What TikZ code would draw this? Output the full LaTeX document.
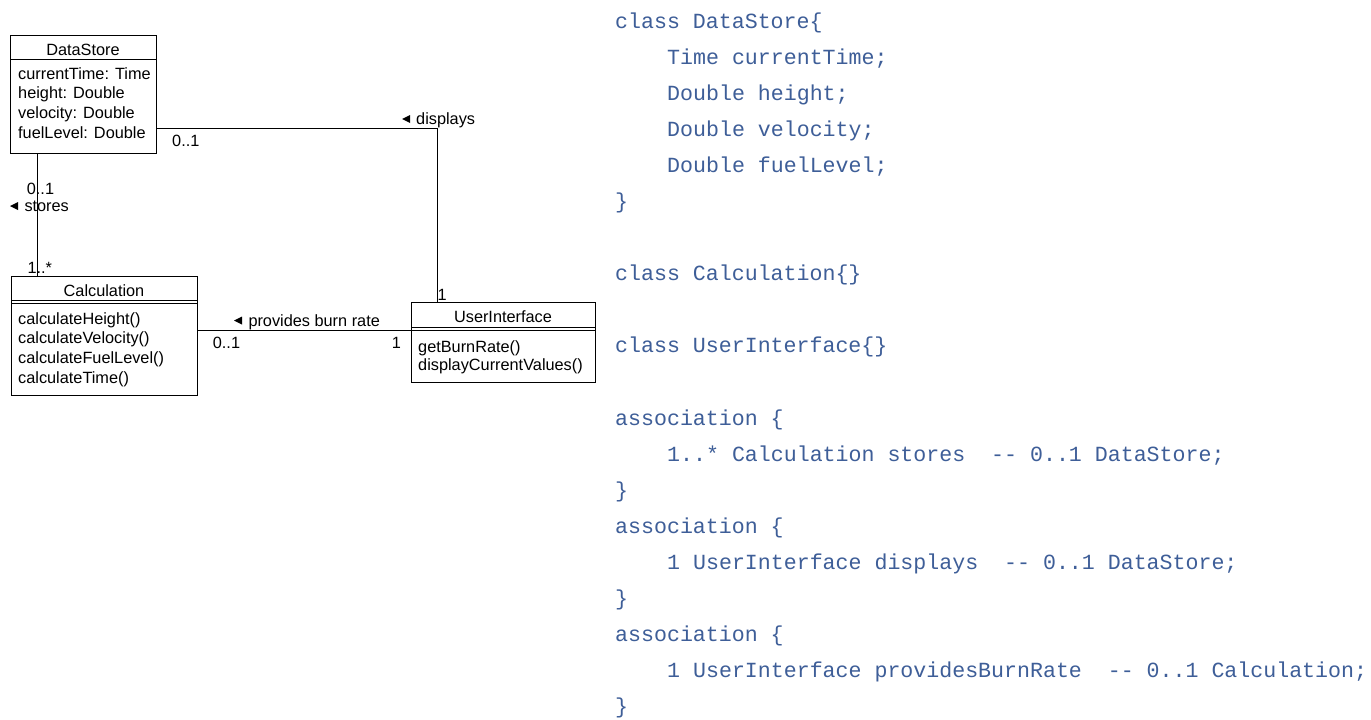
\documentclass[tikz,border=0pt]{standalone}
\usepackage{fontspec}
\setmainfont{Liberation Sans}
\newfontfamily\codefont{Liberation Mono}
\definecolor{codeblue}{RGB}{62,94,152}
\tikzset{
  umlbox/.style={draw, line width=1pt, inner sep=0pt, outer sep=0pt, anchor=north west},
  utext/.style={inner sep=0pt, anchor=base west, font=\fontsize{16.3}{19}\selectfont},
  utitle/.style={inner sep=0pt, anchor=base, font=\fontsize{16.3}{19}\selectfont},
  conn/.style={line width=1pt},
  code/.style={inner sep=0pt, anchor=base west, text=codeblue, font=\codefont\fontsize{21.6}{36}\selectfont},
}
\begin{document}
\begin{tikzpicture}[x=1pt,y=-1pt]
\useasboundingbox[fill=white] (0,0) rectangle (1371,720);

% DataStore
\node[umlbox, minimum width=146pt, minimum height=118pt] (ds) at (10,35) {};
\draw[conn] ([yshift=-24pt]ds.north west) -- ([yshift=-24pt]ds.north east);
\node[utitle] (dst) at (83,55) {DataStore};
\node[utext] (ds1) at (18,79) {currentTime: Time};
\node[utext] (ds2) at (18,98.7) {height: Double};
\node[utext] (ds3) at (18,118.4) {velocity: Double};
\node[utext] (ds4) at (18,138) {fuelLevel: Double};

% Calculation
\node[umlbox, minimum width=186pt, minimum height=119pt] (calc) at (11,276) {};
\draw[conn] ([yshift=-24pt]calc.north west) -- ([yshift=-24pt]calc.north east);
\draw[conn] ([yshift=-27.5pt]calc.north west) -- ([yshift=-27.5pt]calc.north east);
\node[utitle] (calct) at (104,296.7) {Calculation};
\node[utext] (c1) at (18,324) {calculateHeight()};
\node[utext] (c2) at (18,343.7) {calculateVelocity()};
\node[utext] (c3) at (18,363.4) {calculateFuelLevel()};
\node[utext] (c4) at (18,383) {calculateTime()};

% UserInterface
\node[umlbox, minimum width=184pt, minimum height=80pt] (ui) at (411,302) {};
\draw[conn] ([yshift=-25pt]ui.north west) -- ([yshift=-25pt]ui.north east);
\draw[conn] ([yshift=-28.5pt]ui.north west) -- ([yshift=-28.5pt]ui.north east);
\node[utitle] (uit) at (503,322.7) {UserInterface};
\node[utext] (u1) at (418,352.5) {getBurnRate()};
\node[utext] (u2) at (418,370.5) {displayCurrentValues()};

% connectors
\draw[conn] ([xshift=27pt]ds.south west) -- ([xshift=26pt]calc.north west);
\draw[conn] ([yshift=-93pt]ds.north east) -| ([xshift=26pt]ui.north west);
\draw[conn] ([yshift=-54pt]calc.north east) -- ([yshift=-28pt]ui.north west);

% association labels
\node[utext] (m1) at (26.7,194.3) {0..1};
\fill (10,206) -- (18,202) -- (18,210) -- cycle;
\node[utext] (l1) at (24.3,211.7) {stores};
\node[utext] (m2) at (27.3,273) {1..*};

\node[utext] (m3) at (172,146) {0..1};
\fill (402,119) -- (410,115) -- (410,123) -- cycle;
\node[utext] (l2) at (416,124) {displays};
\node[utext] (m4) at (437.3,300) {1};

\fill (234,320.5) -- (242,316.5) -- (242,324.5) -- cycle;
\node[utext] (l3) at (248.3,326) {provides burn rate};
\node[utext] (m5) at (212.7,348) {0..1};
\node[utext] (m6) at (391.7,348) {1};

% code listing
\node[code] (k0) at (615,28) {class~DataStore\{};
\node[code] (k1) at (667,64.1) {Time~currentTime;};
\node[code] (k2) at (667,100.2) {Double~height;};
\node[code] (k3) at (667,136.3) {Double~velocity;};
\node[code] (k4) at (667,172.4) {Double~fuelLevel;};
\node[code] (k5) at (615,208.5) {\}};
\node[code] (k7) at (615,280.7) {class~Calculation\{\}};
\node[code] (k9) at (615,352.9) {class~UserInterface\{\}};
\node[code] (k11) at (615,425.1) {association~\{};
\node[code] (k12) at (667,461.2) {1..*~Calculation~stores~~\mbox{-}\mbox{-}~0..1~DataStore;};
\node[code] (k13) at (615,497.3) {\}};
\node[code] (k14) at (615,533.4) {association~\{};
\node[code] (k15) at (667,569.5) {1~UserInterface~displays~~\mbox{-}\mbox{-}~0..1~DataStore;};
\node[code] (k16) at (615,605.6) {\}};
\node[code] (k17) at (615,641.7) {association~\{};
\node[code] (k18) at (667,677.8) {1~UserInterface~providesBurnRate~~\mbox{-}\mbox{-}~0..1~Calculation;};
\node[code] (k19) at (615,713.9) {\}};
\end{tikzpicture}
\end{document}
